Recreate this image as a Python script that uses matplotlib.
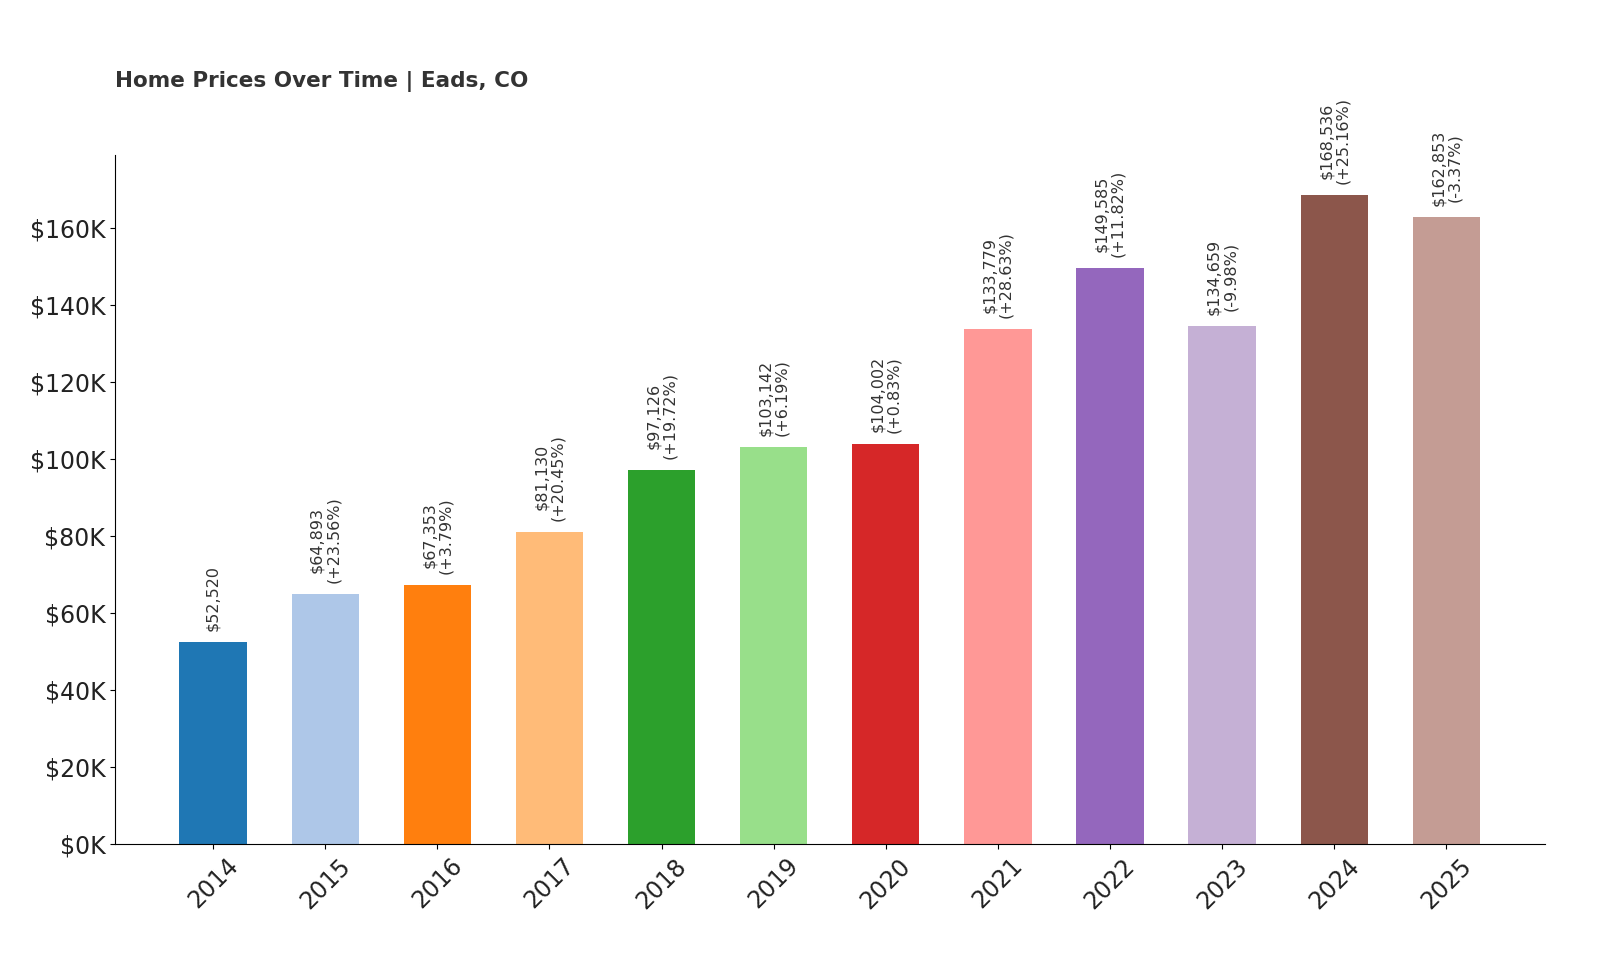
import matplotlib.pyplot as plt
from matplotlib.ticker import FuncFormatter

years = ["2014", "2015", "2016", "2017", "2018", "2019", "2020", "2021", "2022", "2023", "2024", "2025"]
prices = [52520, 64893, 67353, 81130, 97126, 103142, 104002, 133779, 149585, 134659, 168536, 162853]
changes = [None, 23.56, 3.79, 20.45, 19.72, 6.19, 0.83, 28.63, 11.82, -9.98, 25.16, -3.37]


def main():
    colors = plt.get_cmap("tab20").colors
    fig = plt.figure(figsize=(16, 9.6), dpi=100)
    ax = fig.add_axes([115 / 1600, 1 - 844 / 960, 1430 / 1600, 689 / 960])
    x = range(len(years))
    ax.bar(x, prices, width=0.6, color=colors[:len(years)])
    for i, (p, c) in enumerate(zip(prices, changes)):
        label = f"${p:,}" if c is None else f"${p:,}\n({c:+.2f}%)"
        ax.annotate(label, (i, p), xytext=(0, 8), textcoords="offset points",
                    rotation=90, ha="center", va="bottom", fontsize=11.5,
                    multialignment="center", color="#333333", linespacing=1.1)
    ax.set_xticks(list(x))
    ax.set_xticklabels(years, rotation=45, fontsize=17, color="#222222")
    ax.set_xlim(-0.875, len(years) - 0.12)
    ax.set_ylim(0, 179000)
    ax.set_yticks(range(0, 170000, 20000))
    ax.yaxis.set_major_formatter(FuncFormatter(lambda v, _: f"${v / 1000:.0f}K"))
    ax.tick_params(axis="y", labelsize=17, labelcolor="#222222")
    ax.spines["top"].set_visible(False)
    ax.spines["right"].set_visible(False)
    fig.text(115 / 1600, 1 - 82 / 960, "Home Prices Over Time | Eads, CO",
             fontsize=15.5, fontweight="bold", color="#333333", va="center")
    fig.savefig("out.png", dpi=100)


if __name__ == "__main__":
    main()
